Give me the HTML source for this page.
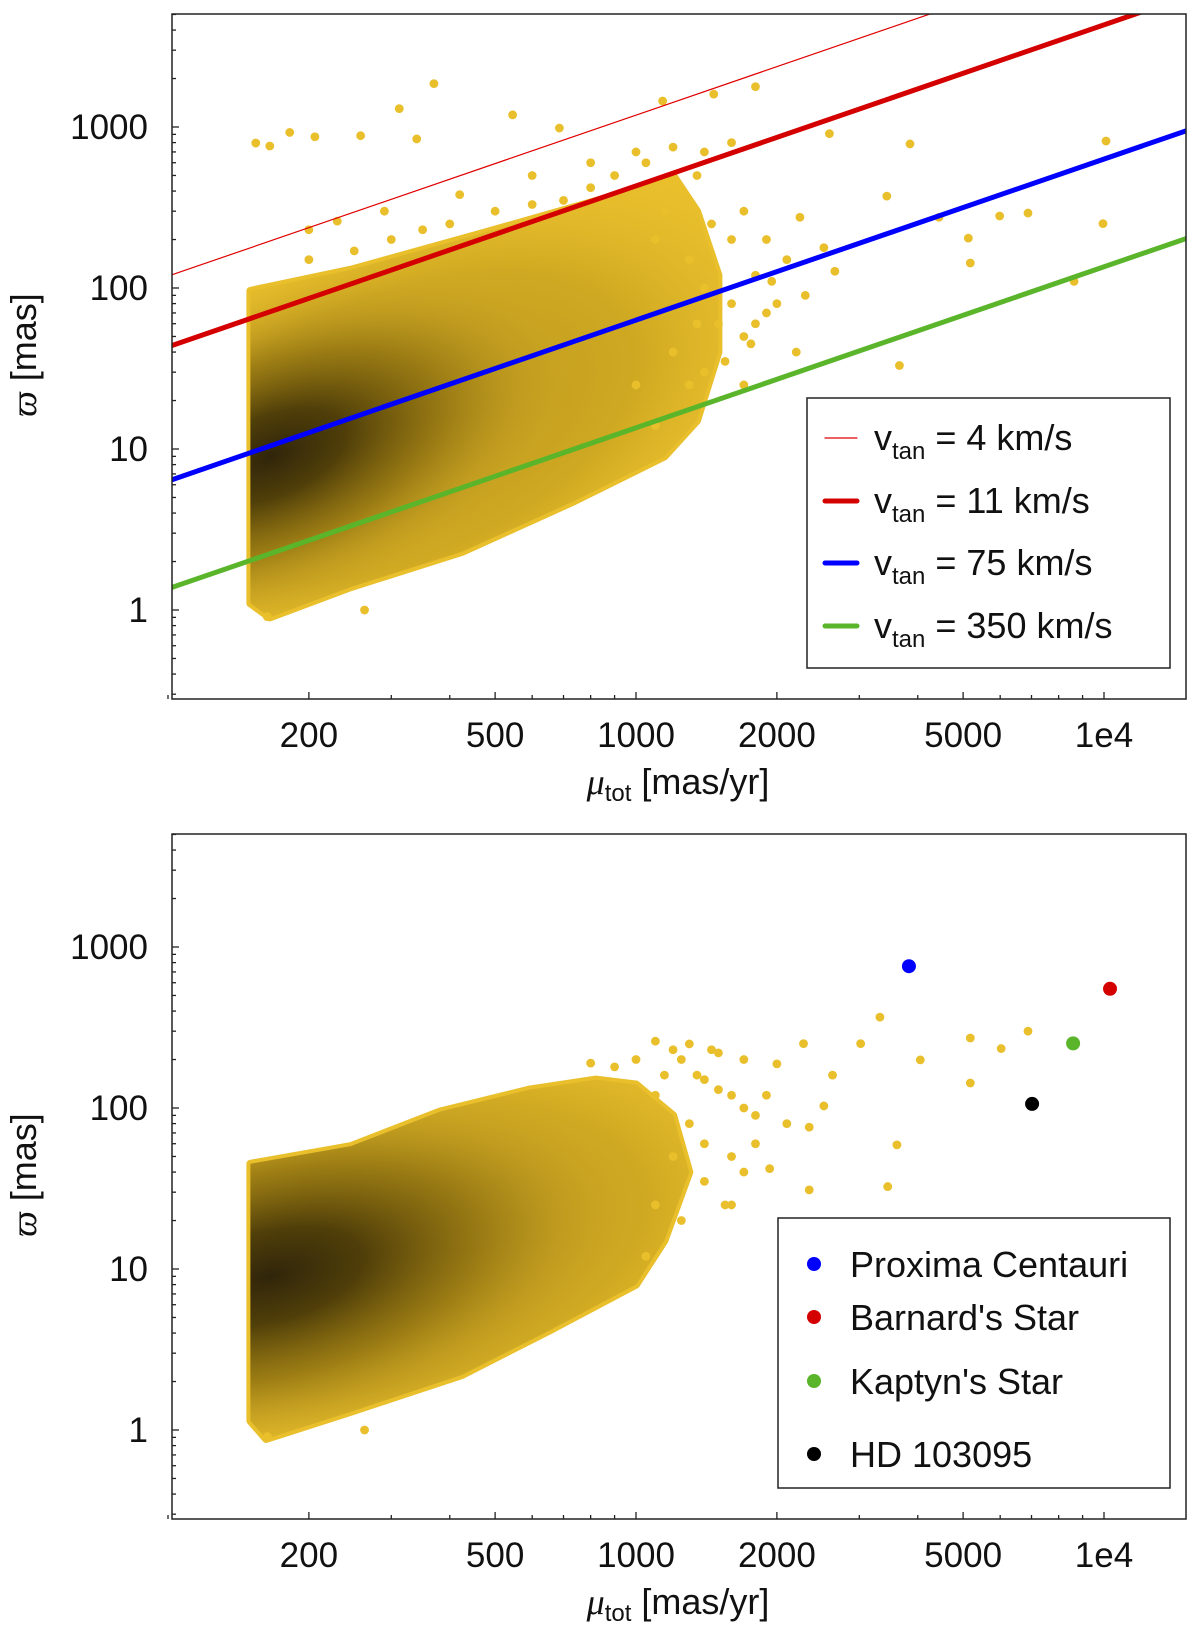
<!DOCTYPE html>
<html><head><meta charset="utf-8"><style>
html,body{margin:0;padding:0;background:#fff;}
svg{display:block;font-family:"Liberation Sans","DejaVu Sans",sans-serif;}
</style></head><body>
<svg id="chart" width="1200" height="1637" viewBox="0 0 1200 1637" xmlns="http://www.w3.org/2000/svg">
<defs>
<radialGradient id="coreTop" cx="0.5" cy="0.5" r="0.5">
<stop offset="0" stop-color="#30250a" stop-opacity="1"/>
<stop offset="0.25" stop-color="#4a3a08" stop-opacity="0.95"/>
<stop offset="0.55" stop-color="#85690e" stop-opacity="0.7"/>
<stop offset="1" stop-color="#d8b02a" stop-opacity="0"/>
</radialGradient>
<radialGradient id="midTone" cx="0.5" cy="0.5" r="0.5">
<stop offset="0" stop-color="#8a6c10" stop-opacity="0.55"/>
<stop offset="0.6" stop-color="#a0800f" stop-opacity="0.35"/>
<stop offset="1" stop-color="#d8b02a" stop-opacity="0"/>
</radialGradient>
</defs>
</svg>
<script>
const svgNS="http://www.w3.org/2000/svg";
const svg=document.getElementById('chart');
// ---- data ----
const xTicks=[200,500,1000,2000,5000,10000];
const xTickLabels=["200","500","1000","2000","5000","1e4"];
const yTicks=[1,10,100,1000];
const yTickLabels=["1","10","100","1000"];
const vtanValues=[4,11,75,350];
const vtanColors=["#e00000","#d40000","#0000ff","#5ab52a"];
const topCloudMu=[150,150,246,473,915,1200,1350,1500,1500,1350,1150,738,425,246,165];
const topCloudPlx=[1.1,96,130,220,380,500,300,120,40,15,9,4.75,2.3,1.39,0.9];
const topOutMu=[154,165,182,206,258,312,370,340,545,686,1140,1466,1800,2590,3435,3850,4440,5130,5985,6880,10100,9950,8630,5180,3655,2660,2240,2520,1950,1760,263,163,200,230,290,420,600,800,1000,1200,1400,1600,1700,1900,2100,2300,1800,2000,2200,
1100,1300,1400,1500,1600,1700,1400,1300,1600,1800,1250,1450,1050,900,700,600,500,400,300,200,250,350,1000,1100,1200,1350,1550,1700,1900,1150,1350,800];
const topOutPlx=[795,762,925,870,883,1300,1860,843,1190,985,1450,1600,1780,910,372,785,275,204,280,292,818,251,110,143,33,127,275,178,110,45,1.0,0.91,230,260,300,380,500,600,700,750,700,800,300,200,150,90,60,80,40,
200,150,100,60,80,50,30,25,200,120,400,250,600,500,350,330,300,250,200,150,170,230,25,14,40,60,35,25,70,300,500,420];
const botCloudMu=[150,150,246,381,590,821,1000,1200,1300,1150,1000,658,425,246,162];
const botCloudPlx=[1.14,45,58,95,130,150,140,90,40,15,8,4.2,2.2,1.3,0.88];
const botOutMu=[3450,3320,3020,4050,5180,6030,6880,5180,3610,2630,2520,2345,2280,2000,1930,2345,1300,1500,1700,1600,1800,1200,1400,1100,263,163,1700,1550,
1000,1100,1250,1300,1400,1500,1600,1700,1200,1100,1250,1400,1600,900,800,1350,1450,1150,1900,2100,1800,1050];
const botOutPlx=[32.5,367,251,199,272,234,300,143,59,160,103,76,251,188,42,31,250,220,200,120,90,230,150,260,1.0,0.91,40,25,
200,120,200,80,60,130,50,100,50,25,20,35,25,180,190,160,230,160,120,80,60,12];
const starNames=["Proxima Centauri","Barnard's Star","Kaptyn's Star","HD 103095"];
const starMu=[3830,10300,8590,7020];
const starPlx=[760,550,252,106];
const starColors=["#0000ff","#d40000","#5ab52a","#000000"];
// ---- scales ----
const X0=172,X1=1186;
function xS(mu){return 1104-468*(4-Math.log10(mu));}
function yS(p,off){return 127+off-161*(Math.log10(p)-3);}
const panels=[{off:0,top:14,bot:699},{off:820,top:834,bot:1519}];
function el(tag,attrs,parent){const e=document.createElementNS(svgNS,tag);for(const k in attrs)e.setAttribute(k,attrs[k]);(parent||svg).appendChild(e);return e;}
const dotColor="#e9bf2c";
panels.forEach((P,pi)=>{
  const g=el('g',{});
  
  
  const cp=el('clipPath',{id:'clip'+pi},g);
  el('rect',{x:X0,y:P.top,width:X1-X0,height:P.bot-P.top},cp);
  const plot=el('g',{'clip-path':'url(#clip'+pi+')'},g);
  const cm=pi===0?topCloudMu:botCloudMu, cpx=pi===0?topCloudPlx:botCloudPlx;
  const pts=cm.map((m,i)=>xS(m).toFixed(1)+','+yS(cpx[i],P.off).toFixed(1)).join(' ');
  const cc=el('clipPath',{id:'cloud'+pi},g);
  el('polygon',{points:pts},cc);
  const poly=el('polygon',{points:pts,fill:dotColor,stroke:dotColor,'stroke-width':8,'stroke-linejoin':'round'},plot);
  
  
  const cg=el('g',{'clip-path':'url(#cloud'+pi+')'},plot);
  const cx=xS(150), cy=yS(9,P.off);
  const mid=el('ellipse',{cx:cx+150,cy:cy-30,rx:420,ry:220,fill:'url(#midTone)',transform:'rotate('+(pi===0?-22:-14)+' '+(cx+150)+' '+(cy-30)+')'},cg);
  
  
  const core=el('ellipse',{cx:cx+20,cy:cy,rx:pi===0?320:380,ry:pi===0?160:180,fill:'url(#coreTop)',transform:'rotate('+(pi===0?-22:-14)+' '+(cx+20)+' '+cy+')'},cg);
  
  
  const om=pi===0?topOutMu:botOutMu, op=pi===0?topOutPlx:botOutPlx;
  om.forEach((m,i)=>{
    const c=el('circle',{cx:xS(m),cy:yS(op[i],P.off),r:4.4,fill:dotColor},plot);
    
    
  });
  if(pi===0){
    vtanValues.forEach((v,i)=>{
      const m0=100,m1=15000;
      const l=el('line',{x1:xS(m0),y1:yS(4.74*m0/v,0),x2:xS(m1),y2:yS(4.74*m1/v,0),stroke:vtanColors[i],'stroke-width':i===0?1.2:5},plot);
      
      
    });
  } else {
    starMu.forEach((m,i)=>{
      const c=el('circle',{cx:xS(m),cy:yS(starPlx[i],P.off),r:7,fill:starColors[i]},plot);
      
      
    });
  }
  const fr=el('rect',{x:X0,y:P.top,width:X1-X0,height:P.bot-P.top,fill:'none',stroke:'#222','stroke-width':1.5},g);
  
  
  for(let d=100;d<=10000;d*=10){for(let k=1;k<10;k++){const m=d*k;if(m<100||m>15000)continue;const x=xS(m);const major=xTicks.indexOf(m)>=0;
    el('line',{x1:x,y1:P.bot,x2:x,y2:P.bot-(major?7:4),stroke:'#222','stroke-width':1.3},g);}}
  xTicks.forEach((m,i)=>{const t=el('text',{x:xS(m),y:P.bot+48,'text-anchor':'middle','font-size':35,fill:'#111'},g);t.textContent=xTickLabels[i];
    });
  for(let d=0.1;d<=1000;d*=10){for(let k=1;k<10;k++){const p=d*k;if(p<0.29||p>5100)continue;const y=yS(p,P.off);const major=Math.abs(Math.log10(p)-Math.round(Math.log10(p)))<1e-6;
    el('line',{x1:X0,y1:y,x2:X0+(major?7:4),y2:y,stroke:'#222','stroke-width':1.3},g);}}
  yTicks.forEach((p,i)=>{const t=el('text',{x:148,y:yS(p,P.off)+12,'text-anchor':'end','font-size':35,fill:'#111'},g);t.textContent=yTickLabels[i];
    });
  const xt=el('text',{x:678,y:P.bot+95,'text-anchor':'middle','font-size':36,fill:'#111'},g);
  xt.innerHTML='<tspan font-style="italic" font-family="Liberation Serif">μ</tspan><tspan font-size="24" dy="7">tot</tspan><tspan dy="-7"> [mas/yr]</tspan>';
  
  const yc=P.off+355;
  const yt=el('text',{x:36,y:yc,'text-anchor':'middle','font-size':36,fill:'#111',transform:'rotate(-90 36 '+yc+')'},g);
  yt.innerHTML='<tspan font-family="Liberation Serif" font-style="italic">ϖ</tspan> [mas]';
  
});
const lg1=el('g',{});


el('rect',{x:807,y:398,width:363,height:270,fill:'#fff',stroke:'#222','stroke-width':1.5},lg1);
const ly1=[438,501,563,626];
vtanValues.forEach((v,i)=>{
  const ln=el('line',{x1:825,y1:ly1[i],x2:857,y2:ly1[i],stroke:vtanColors[i],'stroke-width':i===0?1.2:5,'stroke-linecap':'round'},lg1);
  
  
  const t=el('text',{x:874,y:ly1[i]+12,'font-size':36,fill:'#111'},lg1);
  t.innerHTML='v<tspan font-size="24" dy="9">tan</tspan><tspan dy="-9"> = '+v+' km/s</tspan>';
  
  
});
const lg2=el('g',{});


el('rect',{x:778,y:1218,width:392,height:270,fill:'#fff',stroke:'#222','stroke-width':1.5},lg2);
const ly2=[1264,1317,1381,1454];
starNames.forEach((n,i)=>{
  const c=el('circle',{cx:814,cy:ly2[i],r:7,fill:starColors[i]},lg2);
  
  
  const t=el('text',{x:850,y:ly2[i]+13,'font-size':36,fill:'#111'},lg2);
  t.textContent=n;
  
  
});
</script>
</body></html>
